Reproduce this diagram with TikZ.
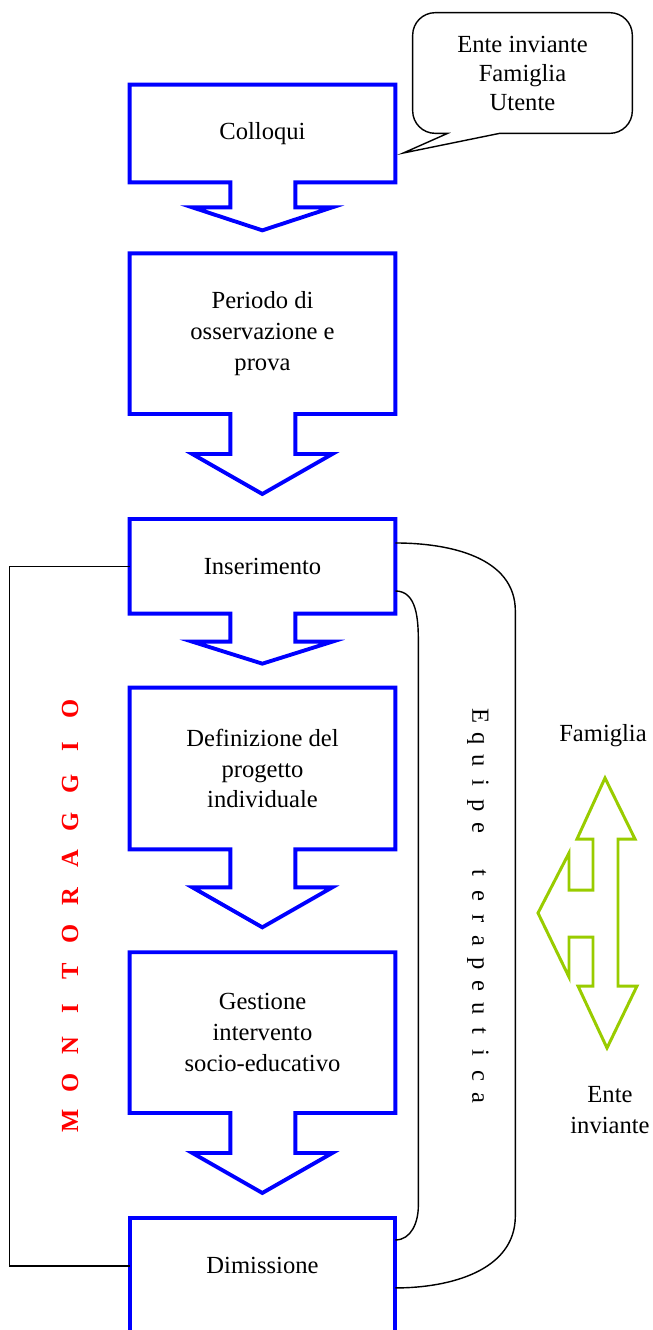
\documentclass[tikz,border=0pt]{standalone}
\usepackage{fontspec}
\setmainfont{Liberation Serif}
\usepackage{xcolor}
\usetikzlibrary{positioning}
\definecolor{verdelime}{RGB}{153,204,0}

\begin{document}
\begin{tikzpicture}[x=0.02cm, y=-0.02cm,
  testo/.style={font=\fontsize{14pt}{17.6pt}\selectfont, align=center},
  blocco/.style={testo, rectangle, minimum width=5.3cm, inner sep=0pt},
  freccia/.style={draw=blue, line width=2.2pt, line join=miter},
  linea/.style={draw=black, line width=0.8pt},
  verde/.style={draw=verdelime, line width=1.7pt, line join=miter}]
\useasboundingbox (0,0) rectangle (653,1330);

% Blocchi
\node[blocco, minimum height=1.94cm] (col) at (262.5,133.5) {Colloqui};
\node[blocco, minimum height=3.2cm, below=1.42cm of col] (per) {Periodo di\\osservazione e\\prova};
\node[blocco, minimum height=1.88cm, below=2.1cm of per] (ins) {Inserimento};
\node[blocco, minimum height=3.22cm, below=1.48cm of ins] (def) {Definizione del\\progetto\\individuale};
\node[blocco, minimum height=3.2cm, below=2.06cm of def] (ges) {Gestione\\intervento\\socio-educativo};
\node[blocco, minimum height=1.9cm, below=2.1cm of ges] (dim) {Dimissione};

% Frecce
\foreach \n/\s/\h in {col/25/23, per/40/40, ins/28/22, def/38/40, ges/40/40}
  \draw[freccia] (\n.south west) |- (\n.north east) -- (\n.south east) -- ++(-100,0) -- ++(0,\s) -- ++(37,0)
    -- ++(-70,\h) -- ++(-70,-\h) -- ++(38,0) -- ++(0,-\s) -- cycle;
\draw[freccia] ([yshift=-1cm]dim.south west) |- (dim.north east) -- ([yshift=-1cm]dim.south east);

% Fumetto
\node[testo, font=\fontsize{14pt}{16.5pt}\selectfont, minimum width=4.38cm, minimum height=2.4cm] (fonti) at (522.5,73) {Ente inviante\\Famiglia\\Utente};
\coordinate (punta) at ([xshift=0.16cm,yshift=-0.39cm]col.east);
\draw[linea] (punta) -- ([xshift=0.7cm]fonti.south west) [rounded corners=0.45cm] -- (fonti.south west) -- (fonti.north west)
  -- (fonti.north east) -- (fonti.south east) [sharp corners] -- ([xshift=1.74cm]fonti.south west) -- cycle;

% Monitoraggio
\draw[linea] (ins.west) -- ++(-120,0) |- (dim.west);
\node[rotate=90, text=red, font=\fontsize{14pt}{14pt}\selectfont\bfseries] (mon) at (70,915)
  {\foreach \l in {M,O,N,I,T,O,R,A,G,G,I,O}{\makebox[21.3pt]{\l}}};

% Equipe
\draw[linea] ([yshift=-0.48cm]ins.north east) to[out=0,in=90] ++(120,68) -- ++(0,605)
  to[out=-90,in=0] ([yshift=-1.4cm]dim.north east);
\draw[linea] ([yshift=-1.44cm]ins.north east) to[out=0,in=90] ++(23,50) -- ++(0,565)
  to[out=-90,in=0] ([yshift=-0.44cm]dim.north east);
\node[rotate=-90, font=\fontsize{14pt}{14pt}\selectfont] (equipe) at (478,907)
  {\foreach \l in {E,q,u,i,p,e,,t,e,r,a,p,e,u,t,i,c,a}{\makebox[12.8pt]{\l}}};

% Famiglia / Ente inviante
\node[testo] (fam) at (603,736) {Famiglia};
\node[testo] (ente) at (610,1110) {Ente\\inviante};
\draw[verde] (593,839) -- (593,890) -- (569,890) -- (569,853) -- (538,913) -- (569,977) -- (569,937)
  -- (593,937) -- (593,986) -- (578,986) -- (607,1048) -- (637,986) -- (618,986) -- (618,839)
  -- (635,839) -- (605,778) -- (577,839) -- cycle;
\end{tikzpicture}
\end{document}
